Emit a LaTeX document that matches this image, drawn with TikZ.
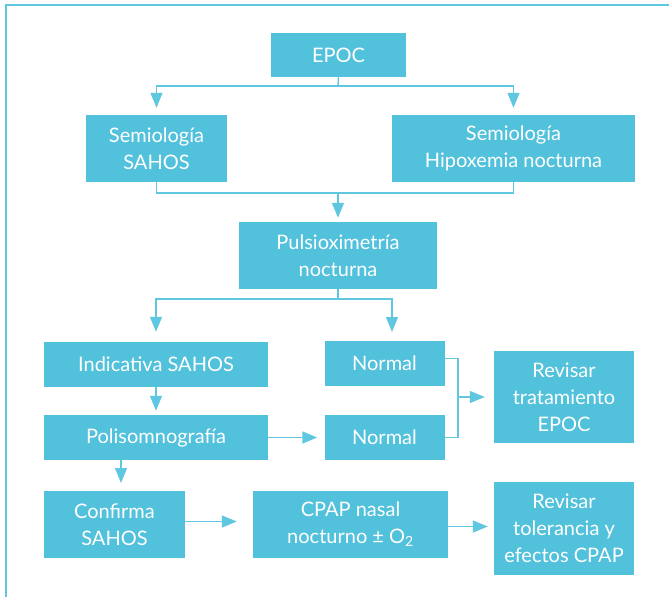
\documentclass[tikz,border=0pt]{standalone}
\usepackage{fontspec}
\setmainfont{Lato}
\usetikzlibrary{arrows.meta}
\definecolor{boxblue}{RGB}{82,193,220}
\definecolor{lineblue}{RGB}{96,199,224}
\begin{document}
\begin{tikzpicture}[x=1pt,y=-1pt,
  box/.style={fill=boxblue, text=white, font=\fontsize{20}{27}\selectfont, align=center, inner sep=0pt},
  conn/.style={draw=lineblue, line width=1.4pt},
  arr/.style={conn, -{Triangle[length=15pt,width=12pt]}}]
\useasboundingbox (0,0) rectangle (669,597);
\draw[lineblue, line width=1.5pt] (6,597) -- (6,5) -- (669,5);

\node[box, minimum width=135pt, minimum height=44pt] (epoc) at (338.5,55) {EPOC};
\node[box, minimum width=141pt, minimum height=67pt] (sem1) at (156.5,148.5) {Semiología\\SAHOS};
\node[box, minimum width=243pt, minimum height=67pt] (sem2) at (513.5,148.5) {Semiología\\Hipoxemia nocturna};
\node[box, minimum width=198pt, minimum height=67pt] (pulsi) at (338,255.5) {Pulsioximetría\\nocturna};
\node[box, minimum width=224pt, minimum height=45pt] (indic) at (156,364.5) {Indicativa SAHOS};
\node[box, minimum width=120pt, minimum height=45pt] (n1) at (384.5,363.5) {Normal};
\node[box, minimum width=140pt, minimum height=92pt] (rev1) at (564,397) {Revisar\\tratamiento\\EPOC};
\node[box, minimum width=224pt, minimum height=45pt] (poli) at (156,437.5) {Polisomnografía};
\node[box, minimum width=120pt, minimum height=45pt] (n2) at (384.5,437.5) {Normal};
\node[box, minimum width=141pt, minimum height=67pt] (conf) at (114.5,524.5) {Confirma\\SAHOS};
\node[box, minimum width=195pt, minimum height=67pt] (cpap) at (350.5,524.5) {CPAP nasal\\nocturno ± O\textsubscript{2}};
\node[box, minimum width=140pt, minimum height=93pt] (rev2) at (564,528.5) {Revisar\\tolerancia y\\efectos CPAP};

% EPOC -> semiologias
\coordinate (b1) at (338,86);
\draw[conn] (epoc.south) -- (b1);
\draw[arr, shorten >=7pt] (b1) -| (sem1.north);
\draw[arr, shorten >=7pt] (b1) -| (sem2.north);

% semiologias -> pulsioximetria
\coordinate (b2) at (338,193);
\draw[conn] (sem1.south) |- (b2);
\draw[conn] (sem2.south) |- (b2);
\draw[arr, shorten >=4pt] (b2) -- (pulsi.north);

% pulsioximetria -> indicativa / normal
\coordinate (b3) at (338,299);
\coordinate (t1) at (392,332);
\draw[conn] (pulsi.south) -- (b3);
\draw[arr, shorten >=10pt] (b3) -| (indic.north);
\draw[arr] (b3) -| (t1);

% indicativa -> polisomnografia
\draw[arr, shorten >=4pt] (indic.south) -- (poli.north);

% polisomnografia -> normal
\draw[arr, shorten >=7pt] (poli.east) -- (n2.west);

% normals -> revisar tratamiento
\coordinate (k) at (458,397);
\draw[conn] ([yshift=5pt]n1.east) -| (k) |- (n2.east);
\draw[arr, shorten >=9pt] (k) -- (rev1.west |- k);

% polisomnografia -> confirma
\coordinate (t2) at (121,483);
\draw[arr] (t2 |- poli.south) -- (t2);

% confirma -> cpap -> revisar
\draw[arr, shorten >=16pt] ([yshift=3pt]conf.east) -- ([yshift=3pt]cpap.west);
\draw[arr, shorten >=6pt] ([yshift=-2pt]cpap.east) -- ([yshift=-2pt]cpap.east -| rev2.west);
\end{tikzpicture}
\end{document}
